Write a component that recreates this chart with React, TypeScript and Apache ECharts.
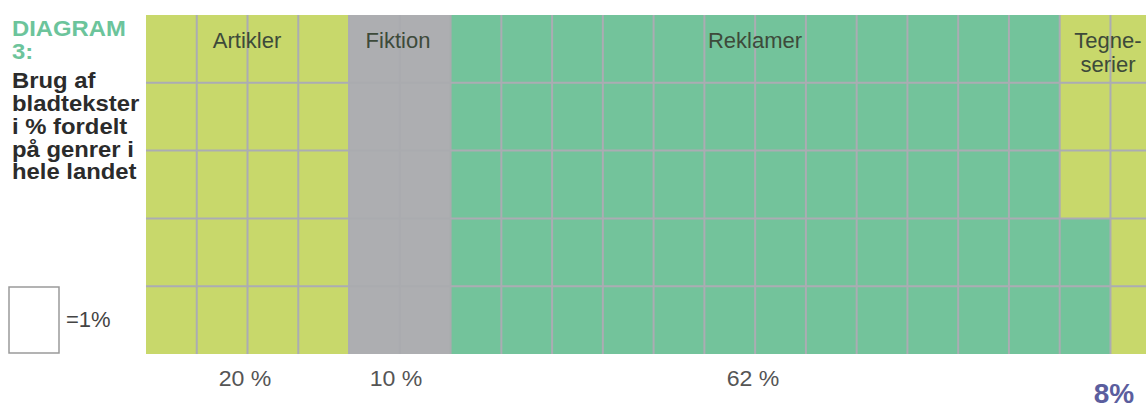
import React, { useEffect, useRef } from "react";
import * as echarts from "echarts";

const categories = ["Artikler", "Fiktion", "Reklamer", "Tegneserier"];
const cellLabels = ["Artikler", "Fiktion", "Reklamer", "Tegne-\nserier"];
const percents = [20, 10, 62, 8];
const percentLabels = ["20 %", "10 %", "62 %", "8%"];
const colors = ["#c8d86b", "#adaeb1", "#73c39b", "#c8d86b"];
const titleGreen = ["DIAGRAM", "3:"];
const titleDark = ["Brug af", "bladtekster", "i % fordelt", "på genrer i", "hele landet"];
const legendText = "=1%";

const ROWS = 5;
const COLS = 20;

// fill order: column by column, bottom to top
const cells: [number, number, number][] = [];
(() => {
  let idx = 0;
  percents.forEach((p, ci) => {
    for (let k = 0; k < p; k++) {
      const col = Math.floor(idx / ROWS);
      const row = ROWS - 1 - (idx % ROWS);
      cells.push([col, row, ci]);
      idx++;
    }
  });
})();

const FONT = "'Liberation Sans', Arial, Helvetica, sans-serif";

export default function App() {
  const ref = useRef<HTMLDivElement>(null);
  useEffect(() => {
    if (!ref.current) return;
    const chart = echarts.init(ref.current, undefined, { renderer: "svg" });
    const graphics: any[] = [];
    graphics.push({
      type: "text",
      x: 12,
      y: 16.5,
      scaleX: 1.06,
      style: {
        text: titleGreen.join("\n"),
        font: `bold 22.5px ${FONT}`,
        fill: "#6cc49b",
        verticalAlign: "top",
        lineHeight: 23,
      },
    });
    graphics.push({
      type: "text",
      x: 12,
      y: 69,
      scaleX: 1.06,
      style: {
        text: titleDark.join("\n"),
        font: `bold 22.5px ${FONT}`,
        fill: "#2b2b2b",
        verticalAlign: "top",
        lineHeight: 22.8,
      },
    });
    graphics.push({
      type: "rect",
      shape: { x: 9, y: 287, width: 50, height: 66 },
      style: { fill: "#fff", stroke: "#9a9a9a", lineWidth: 1.5 },
    });
    graphics.push({
      type: "text",
      x: 66,
      y: 319,
      style: { text: legendText, font: `22px ${FONT}`, fill: "#444", verticalAlign: "middle" },
    });
    // category labels inside the grid
    const labelX = [247, 398, 755, 1108];
    cellLabels.forEach((t, i) => {
      graphics.push({
        type: "text",
        x: labelX[i],
        y: i === 3 ? 52 : 40,
        z: 100,
        style: {
          text: t,
          font: `22px ${FONT}`,
          fill: "#3d4a3a",
          align: "center",
          verticalAlign: "middle",
          lineHeight: 24,
        },
      });
    });
    // percent labels below
    percentLabels.forEach((t, i) => {
      if (i === 3) {
        graphics.push({
          type: "text",
          x: 1114,
          y: 393,
          style: { text: t, font: `bold 28px ${FONT}`, fill: "#5b5e9e", align: "center", verticalAlign: "middle" },
        });
      } else {
        graphics.push({
          type: "text",
          x: labelX[i] - 2,
          y: 379,
          scaleX: 1.05,
          style: { text: t, font: `22px ${FONT}`, fill: "#555", align: "center", verticalAlign: "middle" },
        });
      }
    });

    chart.setOption({
      animation: false,
      backgroundColor: "#ffffff",
      grid: { left: 146, right: 0, top: 15, bottom: 53 },
      xAxis: { type: "value", min: 0, max: 19.7, show: false },
      yAxis: { type: "value", min: 0, max: ROWS, inverse: true, show: false },
      series: [
        {
          type: "custom",
          name: "cells",
          clip: true,
          data: cells,
          renderItem: (params: any, api: any) => {
            const col = api.value(0);
            const row = api.value(1);
            const ci = api.value(2);
            const p0 = api.coord([col, row]);
            const p1 = api.coord([col + 1, row + 1]);
            return {
              type: "rect",
              shape: { x: p0[0], y: p0[1], width: p1[0] - p0[0], height: p1[1] - p0[1] },
              style: { fill: colors[ci] },
            };
          },
        },
        {
          type: "custom",
          name: "lines",
          clip: true,
          z: 5,
          data: cells,
          renderItem: (params: any, api: any) => {
            const col = api.value(0);
            const row = api.value(1);
            const ci = api.value(2);
            const p0 = api.coord([col, row]);
            const p1 = api.coord([col + 1, row + 1]);
            const lineColor = ci === 1 ? "#aaabaf" : "#abacb3";
            const children: any[] = [];
            if (col < COLS - 1) {
              children.push({
                type: "line",
                shape: { x1: p1[0], y1: p0[1], x2: p1[0], y2: p1[1] },
                style: { stroke: lineColor, lineWidth: 2 },
              });
            }
            if (row < ROWS - 1) {
              children.push({
                type: "line",
                shape: { x1: p0[0], y1: p1[1], x2: p1[0], y2: p1[1] },
                style: { stroke: lineColor, lineWidth: 2 },
              });
            }
            return { type: "group", children };
          },
        },
      ],
      graphic: graphics,
    });
    return () => chart.dispose();
  }, []);
  return (
    <div
      ref={ref}
      style={{ position: "absolute", left: 0, top: 0, width: 1146, height: 407 }}
    />
  );
}
